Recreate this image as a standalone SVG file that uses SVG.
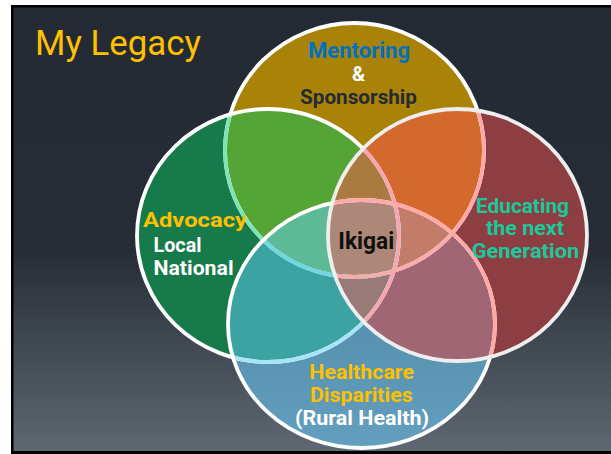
<svg xmlns="http://www.w3.org/2000/svg" width="611" height="454" viewBox="0 0 611 454">
<style>
.t{font-family:Roboto,"Liberation Sans",sans-serif;font-weight:bold}
.yl{fill:#FFC000}
.wh{fill:#FFFFFF}
.gr{fill:#1BC89A}
.ol{fill:none;stroke-width:3.8}
</style>
<defs>
<linearGradient id="bg" x1="0" y1="0" x2="0" y2="1">
<stop offset="0" stop-color="#232A33"/>
<stop offset="0.55" stop-color="#262D36"/>
<stop offset="1" stop-color="#5E6872"/>
</linearGradient>
<linearGradient id="gB" x1="0" y1="0" x2="0" y2="1">
<stop offset="0" stop-color="#4982A0"/>
<stop offset="1" stop-color="#639FBE"/>
</linearGradient>
<clipPath id="cT"><ellipse cx="354.5" cy="150" rx="129.5" ry="127"/></clipPath>
<clipPath id="cL"><ellipse cx="268" cy="235.5" rx="131" ry="126.5"/></clipPath>
<clipPath id="cR"><ellipse cx="457.5" cy="235" rx="129.5" ry="126"/></clipPath>
<clipPath id="cB"><ellipse cx="361.5" cy="324" rx="133.5" ry="124"/></clipPath>
</defs>
<rect width="611" height="454" fill="#FFFFFF"/>
<rect x="11" y="5" width="600" height="449" fill="#000000"/>
<rect x="13.5" y="7.5" width="597.5" height="443.5" fill="url(#bg)"/>
<g id="title"><text x="35" y="54.5" font-family="Roboto,'Liberation Sans',sans-serif" font-size="34.5" fill="#FFC000" textLength="166" lengthAdjust="spacingAndGlyphs">My Legacy</text></g>
<g id="venn-fills">
<ellipse cx="354.5" cy="150" rx="129.5" ry="127" fill="#A98208"/>
<ellipse cx="268" cy="235.5" rx="131" ry="126.5" fill="#167A4B"/>
<ellipse cx="457.5" cy="235" rx="129.5" ry="126" fill="#8D3E43"/>
<ellipse cx="361.5" cy="324" rx="133.5" ry="124" fill="url(#gB)"/>
<g clip-path="url(#cT)"><rect width="611" height="454" fill="#54A535" clip-path="url(#cL)"/></g>
<g clip-path="url(#cT)"><rect width="611" height="454" fill="#D3692C" clip-path="url(#cR)"/></g>
<g clip-path="url(#cL)"><rect width="611" height="454" fill="#3CA3A3" clip-path="url(#cB)"/></g>
<g clip-path="url(#cR)"><rect width="611" height="454" fill="#A06674" clip-path="url(#cB)"/></g>
<g clip-path="url(#cT)"><g clip-path="url(#cL)"><rect width="611" height="454" fill="#A97B40" clip-path="url(#cR)"/></g></g>
<g clip-path="url(#cT)"><g clip-path="url(#cL)"><rect width="611" height="454" fill="#5DB996" clip-path="url(#cB)"/></g></g>
<g clip-path="url(#cT)"><g clip-path="url(#cR)"><rect width="611" height="454" fill="#C47C6A" clip-path="url(#cB)"/></g></g>
<g clip-path="url(#cL)"><g clip-path="url(#cR)"><rect width="611" height="454" fill="#987A78" clip-path="url(#cB)"/></g></g>
<g clip-path="url(#cT)"><g clip-path="url(#cL)"><g clip-path="url(#cR)"><rect width="611" height="454" fill="#AD8878" clip-path="url(#cB)"/></g></g></g>
</g>
<g id="venn-outlines">
<ellipse class="ol" cx="354.5" cy="150" rx="129.5" ry="127" stroke="#FFFFFF"/>
<g clip-path="url(#cL)"><ellipse class="ol" cx="354.5" cy="150" rx="129.5" ry="127" stroke="#7FE3B3"/></g>
<g clip-path="url(#cB)"><ellipse class="ol" cx="354.5" cy="150" rx="129.5" ry="127" stroke="#74D6E2"/></g>
<ellipse class="ol" cx="268" cy="235.5" rx="131" ry="126.5" stroke="#FFFFFF"/>
<g clip-path="url(#cB)"><ellipse class="ol" cx="268" cy="235.5" rx="131" ry="126.5" stroke="#A8E4F7"/></g>
<ellipse class="ol" cx="361.5" cy="324" rx="133.5" ry="124" stroke="#FFFFFF"/>
<g clip-path="url(#cR)">
<ellipse class="ol" cx="354.5" cy="150" rx="129.5" ry="127" stroke="#FFA9A9"/>
<ellipse class="ol" cx="268" cy="235.5" rx="131" ry="126.5" stroke="#F5A6AE"/>
<ellipse class="ol" cx="361.5" cy="324" rx="133.5" ry="124" stroke="#FFA9A9"/>
</g>
<ellipse class="ol" cx="457.5" cy="235" rx="129.5" ry="126" stroke="#EEEEEE"/>
</g>
<g id="node-mentoring">
<text class="t" x="308" y="58" font-size="22" fill="#0070C0" textLength="102" lengthAdjust="spacingAndGlyphs">Mentoring</text>
<text class="t wh" x="358.5" y="81" font-size="20" text-anchor="middle">&amp;</text>
<text class="t" x="300" y="103.5" font-size="20" fill="#252B33" textLength="117" lengthAdjust="spacingAndGlyphs">Sponsorship</text>
</g>
<g id="node-advocacy">
<text class="t yl" x="143" y="227" font-size="21" textLength="104" lengthAdjust="spacingAndGlyphs">Advocacy</text>
<text class="t wh" x="153.5" y="251.7" font-size="20" textLength="48" lengthAdjust="spacingAndGlyphs">Local</text>
<text class="t wh" x="153.5" y="275" font-size="20" textLength="80" lengthAdjust="spacingAndGlyphs">National</text>
</g>
<g id="node-educating">
<text class="t gr" x="476" y="212.5" font-size="20.5" textLength="93" lengthAdjust="spacingAndGlyphs">Educating</text>
<text class="t gr" x="486" y="235.3" font-size="20.5" textLength="78" lengthAdjust="spacingAndGlyphs">the next</text>
<text class="t gr" x="471.7" y="258.3" font-size="20.5" textLength="107.6" lengthAdjust="spacingAndGlyphs">Generation</text>
</g>
<g id="node-healthcare">
<text class="t yl" x="309.3" y="379.3" font-size="20" textLength="104.7" lengthAdjust="spacingAndGlyphs">Healthcare</text>
<text class="t yl" x="310" y="401.7" font-size="20" textLength="102.7" lengthAdjust="spacingAndGlyphs">Disparities</text>
<text class="t wh" x="295" y="425" font-size="20" textLength="134" lengthAdjust="spacingAndGlyphs">(Rural Health)</text>
</g>
<g id="node-ikigai">
<text class="t" x="338.3" y="249.3" font-size="23" fill="#111111" textLength="56" lengthAdjust="spacingAndGlyphs">Ikigai</text>
</g>
</svg>
